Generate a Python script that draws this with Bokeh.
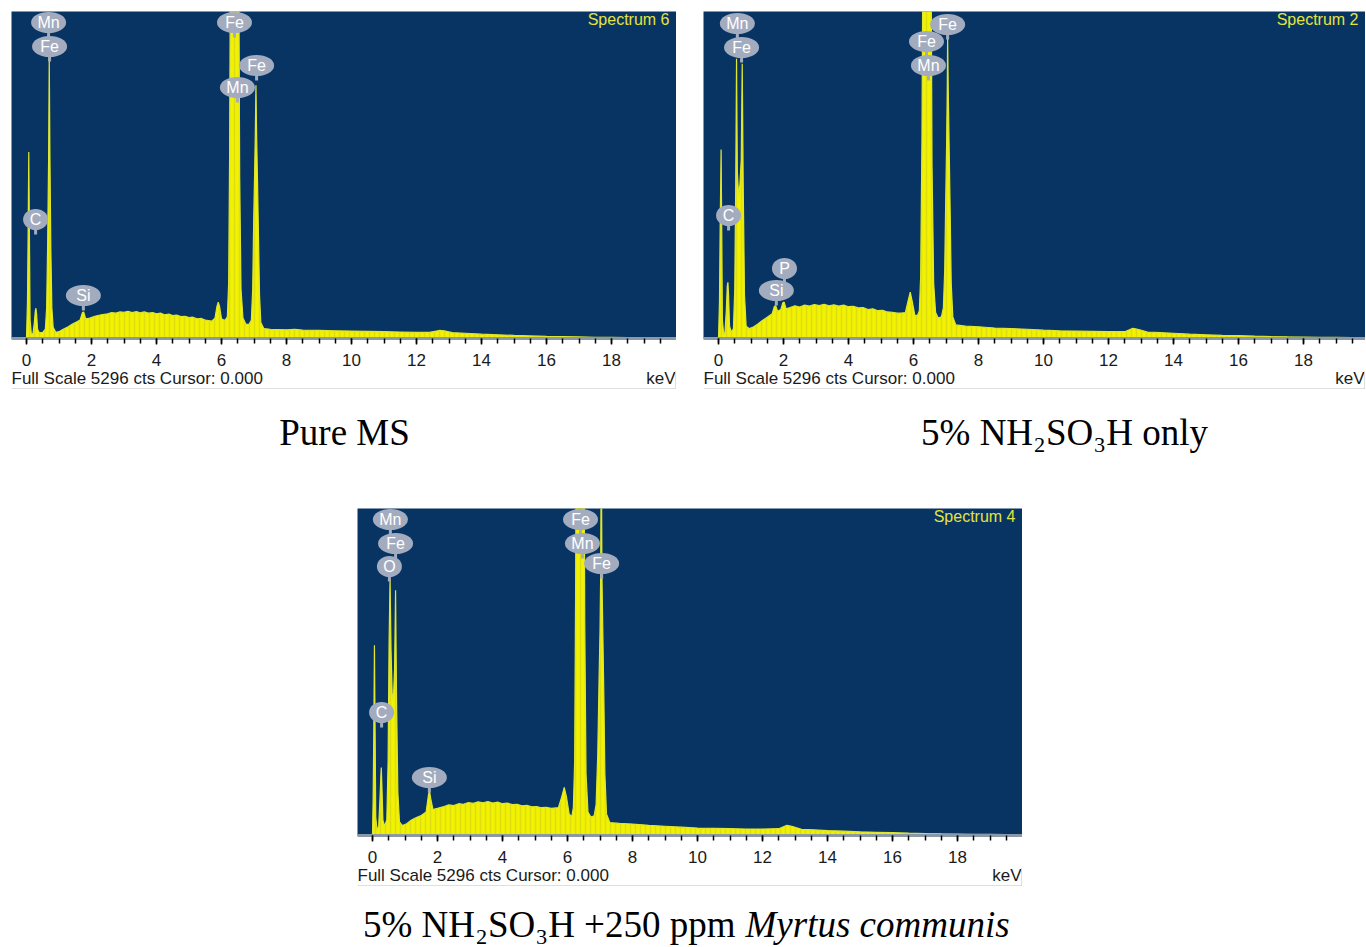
from bokeh.plotting import figure
from bokeh.layouts import column, row, Spacer
from bokeh.models import Range1d, FixedTicker, Label, ColumnDataSource, Span
from bokeh.core.properties import value
from bokeh.embed import file_html
from bokeh.resources import INLINE

# ---------------- data ----------------
FULL_SCALE = 5296
TICKS = [0, 2, 4, 6, 8, 10, 12, 14, 16, 18]
TICK_LABELS = ["0", "2", "4", "6", "8", "10", "12", "14", "16", "18"]
MINOR_TICKS = [0, 0.5, 1, 1.5, 2, 2.5, 3, 3.5, 4, 4.5, 5, 5.5, 6, 6.5, 7, 7.5, 8, 8.5, 9, 9.5,
               10, 10.5, 11, 11.5, 12, 12.5, 13, 13.5, 14, 14.5, 15, 15.5, 16, 16.5, 17, 17.5,
               18, 18.5, 19, 19.5]
FOOTER_TEXT = "Full Scale 5296 cts Cursor: 0.000"
UNIT_TEXT = "keV"

# Pure MS (Spectrum 6)
kev_ms = [0.00, 0.03, 0.05, 0.07, 0.09, 0.11, 0.15, 0.20, 0.24, 0.27, 0.29, 0.31, 0.34, 0.40,
          0.50, 0.58, 0.62, 0.65, 0.68, 0.70, 0.72, 0.75, 0.78, 0.82, 0.90, 1.00, 1.10, 1.25,
          1.40, 1.55, 1.65, 1.72, 1.76, 1.82, 1.95, 2.10, 2.30, 2.50, 2.62, 2.75, 2.88, 3.00,
          3.12, 3.25, 3.38, 3.50, 3.62, 3.75, 3.88, 4.00, 4.12, 4.25, 4.38, 4.50, 4.62, 4.75,
          4.88, 5.00, 5.12, 5.25, 5.38, 5.50, 5.70, 5.80, 5.86, 5.90, 5.94, 6.00,
          6.10, 6.18, 6.22, 6.25, 6.28, 6.34, 6.40, 6.46, 6.52, 6.56, 6.60, 6.66, 6.75, 6.85,
          6.92, 6.96, 6.99, 7.02, 7.04, 7.06, 7.08, 7.11, 7.14, 7.17, 7.21, 7.30, 7.50, 7.75,
          8.00, 8.25, 8.50, 9.00, 9.50, 10.00, 10.50, 11.00, 11.50, 12.00, 12.40, 12.70, 12.85,
          13.10, 13.50, 14.00, 14.50, 15.00, 15.50, 16.00, 16.50, 17.00, 17.50, 18.00, 18.50,
          19.00, 19.50, 20.00]
cts_ms = [0, 600, 1700, 3020, 1700, 300, 60, 80, 250, 440, 490, 400, 150, 90,
          100, 150, 500, 1500, 2900, 4580, 3000, 1400, 500, 180, 100, 110, 140, 180,
          230, 270, 300, 420, 430, 320, 330, 360, 385, 400, 420, 410, 430, 425,
          440, 420, 435, 415, 430, 410, 420, 400, 410, 385, 395, 370, 380, 355,
          360, 340, 345, 320, 325, 300, 280, 330, 520, 590, 520, 320,
          290, 350, 900, 3000, 7000, 12000, 14000, 12500, 7500, 2600, 800, 330, 230, 230,
          300, 800, 1900, 2700, 3300, 4100, 3300, 2500, 1600, 700, 260, 160, 150, 145,
          140, 150, 135, 130, 125, 120, 115, 110, 105, 100, 100, 130, 125,
          95, 85, 70, 60, 50, 42, 35, 30, 25, 20, 18, 15,
          13, 12, 10]
lbl_ms = ["Mn", "Fe", "Fe", "Mn", "Fe", "C", "Si"]
lbl_ms_kev = [0.68, 0.71, 6.40, 6.49, 7.08, 0.28, 1.75]
lbl_ms_cts = [5118, 4729, 5118, 4065, 4421, 1927, 696]

# 5% NH2SO3H only (Spectrum 2)
kev_acid = [0.00, 0.03, 0.05, 0.08, 0.10, 0.12, 0.16, 0.20, 0.24, 0.27, 0.29, 0.31, 0.34, 0.40,
            0.46, 0.50, 0.53, 0.555, 0.58, 0.62, 0.66, 0.70, 0.73, 0.76, 0.80, 0.85, 0.95, 1.05,
            1.20, 1.35, 1.50, 1.65, 1.72, 1.76, 1.82, 1.92, 1.98, 2.02, 2.08, 2.20, 2.35, 2.50,
            2.65, 2.80, 2.95, 3.10, 3.25, 3.40, 3.55, 3.70, 3.85, 4.00, 4.15, 4.30, 4.45, 4.60,
            4.75, 4.90, 5.05, 5.20, 5.35, 5.50, 5.65, 5.75, 5.83, 5.90, 5.96,
            6.04, 6.12, 6.18, 6.22, 6.26, 6.30, 6.36, 6.42, 6.48, 6.53, 6.57, 6.62, 6.68, 6.76,
            6.86, 6.92, 6.96, 6.99, 7.02, 7.04, 7.05, 7.07, 7.10, 7.13, 7.16, 7.21, 7.30, 7.60,
            8.00, 8.50, 9.00, 9.50, 10.00, 10.50, 11.00, 11.50, 12.00, 12.50, 12.75, 12.90,
            13.20, 13.60, 14.00, 14.50, 15.00, 15.50, 16.00, 16.50, 17.00, 17.50, 18.00, 18.50,
            19.00, 19.50, 20.00]
cts_acid = [0, 600, 1750, 3060, 1750, 300, 60, 100, 450, 850, 910, 700, 200, 100,
            160, 800, 2500, 4530, 2700, 2300, 2500, 2900, 4450, 2500, 700, 200, 160, 180,
            230, 290, 345, 400, 520, 530, 440, 470, 580, 590, 480, 500, 530, 510,
            540, 525, 550, 535, 555, 530, 545, 525, 540, 515, 520, 495, 500, 470,
            480, 450, 455, 430, 425, 410, 415, 420, 600, 750, 600,
            380, 370, 450, 1000, 3200, 7500, 13000, 15000, 13000, 7500, 2800, 900, 420, 330,
            350, 500, 1100, 2200, 3200, 4100, 4900, 4000, 3000, 2000, 900, 350, 220, 200,
            190, 170, 160, 150, 135, 125, 120, 115, 110, 110, 165, 150,
            105, 95, 85, 70, 60, 50, 45, 38, 32, 27, 24, 20,
            17, 15, 12]
lbl_acid = ["Mn", "Fe", "C", "P", "Si", "Fe", "Mn", "Fe"]
lbl_acid_kev = [0.58, 0.71, 0.31, 2.03, 1.78, 6.40, 6.46, 7.05]
lbl_acid_cts = [5102, 4713, 1992, 1134, 777, 4810, 4421, 5086]

# 5% NH2SO3H + 250 ppm Myrtus communis (Spectrum 4)
kev_inh = [0.00, 0.02, 0.04, 0.06, 0.08, 0.10, 0.14, 0.19, 0.23, 0.26, 0.27, 0.29, 0.32, 0.37,
           0.44, 0.48, 0.51, 0.54, 0.57, 0.61, 0.65, 0.68, 0.71, 0.74, 0.78, 0.83, 0.92, 1.05,
           1.20, 1.35, 1.50, 1.65, 1.72, 1.75, 1.79, 1.86, 2.00, 2.20, 2.35, 2.50, 2.65, 2.80,
           2.95, 3.10, 3.25, 3.40, 3.55, 3.70, 3.85, 4.00, 4.15, 4.30, 4.45, 4.60, 4.75, 4.90,
           5.05, 5.20, 5.35, 5.50, 5.72, 5.82, 5.90, 5.97, 6.05, 6.13, 6.18,
           6.22, 6.25, 6.28, 6.34, 6.39, 6.45, 6.50, 6.53, 6.57, 6.63, 6.72, 6.82, 6.88, 6.93,
           6.97, 7.00, 7.02, 7.04, 7.06, 7.09, 7.12, 7.15, 7.20, 7.30, 7.60, 8.00, 8.50, 9.00,
           9.50, 10.00, 10.50, 11.00, 11.50, 12.00, 12.50, 12.75, 12.90, 13.20, 13.60, 14.00,
           14.50, 15.00, 15.50, 16.00, 16.50, 17.00, 17.50, 18.00, 18.50, 19.00, 19.50, 20.00]
cts_inh = [0, 600, 1700, 3080, 1700, 300, 80, 150, 600, 1000, 1100, 800, 250, 150,
           250, 1200, 3100, 4160, 3000, 2200, 2300, 2700, 3970, 2200, 700, 220, 160, 190,
           250, 290, 325, 380, 650, 730, 600, 420, 440, 470, 495, 485, 515, 505,
           535, 520, 545, 530, 550, 525, 540, 515, 525, 500, 505, 480, 490, 465,
           470, 450, 455, 440, 450, 620, 780, 620, 350, 300, 450,
           1200, 4000, 8000, 13000, 14500, 13000, 8000, 3500, 1000, 380, 300, 320, 500, 1300,
           2500, 3300, 4200, 6500, 4200, 3200, 2200, 1000, 350, 210, 195, 185, 165, 150,
           135, 120, 115, 110, 105, 105, 110, 165, 150, 100, 90, 80,
           70, 60, 52, 45, 38, 32, 27, 24, 20, 17, 15, 12]
lbl_inh = ["Mn", "Fe", "O", "C", "Si", "Fe", "Mn", "Fe"]
lbl_inh_kev = [0.55, 0.71, 0.52, 0.28, 1.75, 6.40, 6.46, 7.05]
lbl_inh_cts = [5118, 4729, 4357, 1992, 939, 5118, 4729, 4405]

# ---------------- styling / layout ----------------
BLUE = "#083464"
YELLOW = "#f2f200"
YELLOW_LINE = "#dfe62e"
STRIPE = "#c4c42a"
PIN = "#a3acbe"
PX_PER_KEV = 32.5
ZERO_PX = 15
FRAME_H = 327
STEM_PX = 15
AXIS_H = 32
FOOT_H = 19
SANS = "Liberation Sans"
SERIF = "Liberation Serif"


def panel(E, C, names, lk, lc, title, width, top):
    x0 = -ZERO_PX / PX_PER_KEV
    x1 = x0 + width / PX_PER_KEV
    p = figure(width=width, height=top + FRAME_H + AXIS_H,
               x_range=Range1d(x0, x1), y_range=Range1d(0, FULL_SCALE),
               output_backend="svg", toolbar_location=None,
               min_border_left=0, min_border_right=0, min_border_top=top,
               min_border_bottom=AXIS_H, y_axis_location=None,
               background_fill_color=BLUE, border_fill_color="white",
               outline_line_color=None)
    p.grid.visible = False
    ax = p.xaxis[0]
    ax.ticker = FixedTicker(ticks=TICKS, minor_ticks=MINOR_TICKS)
    ax.major_label_overrides = {t: l for t, l in zip(TICKS, TICK_LABELS)}
    ax.axis_line_color = "#8c98a6"
    ax.axis_line_width = 3
    ax.major_tick_line_color = "black"
    ax.minor_tick_line_color = "black"
    ax.major_tick_line_width = 1.5
    ax.minor_tick_line_width = 1.5
    ax.major_tick_in = 0
    ax.major_tick_out = 6
    ax.minor_tick_in = 0
    ax.minor_tick_out = 5
    ax.major_label_standoff = 9
    ax.major_label_text_font = SANS
    ax.major_label_text_font_size = "17px"
    ax.major_label_text_color = "#1a1a1a"

    p.varea(x=E, y1=0, y2=C, fill_color=YELLOW,
            hatch_pattern="vertical_line", hatch_color=STRIPE,
            hatch_alpha=0.45, hatch_scale=5, hatch_weight=1.5)
    p.line(E, C, line_color=YELLOW_LINE, line_width=1.2)

    stem = STEM_PX * FULL_SCALE / FRAME_H
    src = ColumnDataSource(dict(x=lk, y=lc, t=names,
                                w=[25 if len(n) == 1 else 35 for n in names],
                                ys=[c - stem for c in lc]))
    p.segment(x0="x", y0="y", x1="x", y1="ys", source=src, line_color=PIN, line_width=3)
    p.ellipse(x="x", y="y", width="w", height=21, width_units="screen",
              height_units="screen", source=src, fill_color=PIN, line_color=None)
    p.text(x="x", y="y", text="t", source=src, text_color="white",
           text_align="center", text_baseline="middle",
           text_font=value(SANS), text_font_size="16px")

    p.add_layout(Label(x=width - 7, y=FRAME_H - 8, x_units="screen", y_units="screen",
                       text=title, text_align="right", text_baseline="middle",
                       text_color="#e4e43c", text_font=SANS, text_font_size="16px"))
    return p


def footer(width, text_y):
    f = figure(width=width, height=FOOT_H, x_range=Range1d(0, width),
               y_range=Range1d(0, FOOT_H), output_backend="svg",
               toolbar_location=None, min_border=0, x_axis_location=None,
               y_axis_location=None, outline_line_color=None,
               background_fill_color="white", border_fill_color="white")
    f.grid.visible = False
    f.add_layout(Label(x=0, y=text_y, x_units="screen", y_units="screen",
                       text=FOOTER_TEXT, text_align="left", text_baseline="middle",
                       text_color="#1a1a1a", text_font=SANS, text_font_size="17px"))
    f.add_layout(Label(x=width - 1, y=text_y, x_units="screen", y_units="screen",
                       text=UNIT_TEXT, text_align="right", text_baseline="middle",
                       text_color="#1a1a1a", text_font=SANS, text_font_size="17px"))
    f.add_layout(Span(location=0.5, dimension="width", line_color="#d4d4d4", line_width=1.5))
    f.add_layout(Span(location=width - 0.5, dimension="height", line_color="#d4d4d4",
                      line_width=1.5))
    return f


def caption_fig(width, height):
    c = figure(width=width, height=height, x_range=Range1d(0, width),
               y_range=Range1d(0, height), output_backend="svg",
               toolbar_location=None, min_border=0, x_axis_location=None,
               y_axis_location=None, outline_line_color=None,
               background_fill_color="white", border_fill_color="white")
    c.grid.visible = False
    return c


p1 = panel(kev_ms, cts_ms, lbl_ms, lbl_ms_kev, lbl_ms_cts, "Spectrum 6", 665, 11)
p2 = panel(kev_acid, cts_acid, lbl_acid, lbl_acid_kev, lbl_acid_cts, "Spectrum 2", 662, 11)
p3 = panel(kev_inh, cts_inh, lbl_inh, lbl_inh_kev, lbl_inh_cts, "Spectrum 4", 665, 0)
f1 = footer(665, 11)
f2 = footer(662, 11)
f3 = footer(665, 11)

cap1 = caption_fig(1365, 118)
cap1.add_layout(Label(x=344, y=76, x_units="screen", y_units="screen", text="Pure MS",
                      text_align="center", text_baseline="alphabetic",
                      text_font=SERIF, text_font_size="37px", text_color="black"))
cap1.add_layout(Label(x=1064, y=76, x_units="screen", y_units="screen",
                      text="5% NH\u2082SO\u2083H only",
                      text_align="center", text_baseline="alphabetic",
                      text_font=SERIF, text_font_size="37px", text_color="black"))

cap3 = caption_fig(1365, 60)
cap3.add_layout(Label(x=735, y=22, x_units="screen", y_units="screen",
                      text="5% NH\u2082SO\u2083H +250 ppm",
                      text_align="right", text_baseline="alphabetic",
                      text_font=SERIF, text_font_size="37px", text_color="black"))
cap3.add_layout(Label(x=745, y=22, x_units="screen", y_units="screen",
                      text="Myrtus communis", text_font_style="italic",
                      text_align="left", text_baseline="alphabetic",
                      text_font=SERIF, text_font_size="37px", text_color="black"))

layout = column(
    row(Spacer(width=11, height=390), column(p1, f1), Spacer(width=27, height=390),
        column(p2, f2)),
    cap1,
    row(Spacer(width=357, height=378), column(p3, f3)),
    cap3,
)

open("out.html", "w").write(file_html(layout, INLINE))
